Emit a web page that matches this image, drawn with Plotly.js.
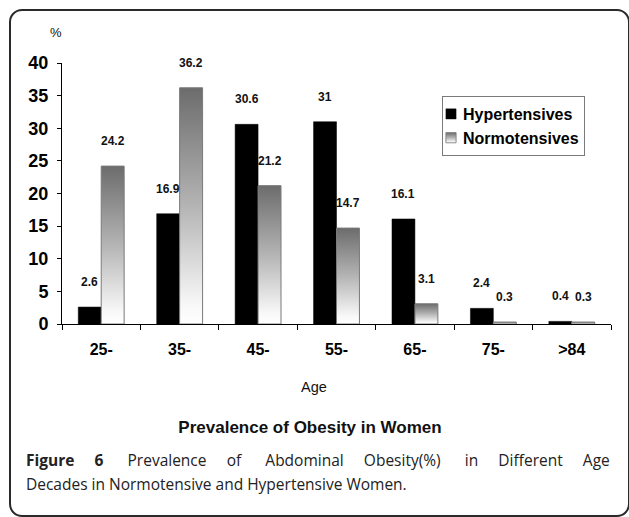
<!DOCTYPE html>
<html>
<head>
<meta charset="utf-8">
<script src="https://cdn.plot.ly/plotly-3.0.1.min.js"></script>
<style>
  html, body { margin: 0; padding: 0; background: #fff; }
  #wrap { position: relative; width: 629px; height: 517px; overflow: hidden; }
  #frame { position: absolute; left: 9px; top: 9px; width: 617px; height: 504px;
           border: 2px solid #2a2a2a; border-radius: 13px; }
  #chart { position: absolute; left: 0; top: 0; width: 629px; height: 517px; }
</style>
</head>
<body>
<div id="wrap">
  <div id="frame"></div>
  <div id="chart"></div>
</div>
<script>
// ---- data ----
const ageGroups = ["25-", "35-", "45-", "55-", "65-", "75-", ">84"];
const hypertensives = [2.6, 16.9, 30.6, 31, 16.1, 2.4, 0.4];
const normotensives = [24.2, 36.2, 21.2, 14.7, 3.1, 0.3, 0.3];
const seriesNames = ["Hypertensives", "Normotensives"];
const yTicks = [0, 5, 10, 15, 20, 25, 30, 35, 40];

// ---- layout constants ----
const W = 629, H = 517;
const M = { l: 62, r: 18, t: 63, b: 193 };
const plotW = W - M.l - M.r;
const bargap = 0.415;
const catPx = plotW / ageGroups.length;
const barPx = catPx * (1 - bargap) / 2;
const SANS = "Arial, 'Liberation Sans', Helvetica, sans-serif";
const CAP = "'Open Sans', 'Noto Sans', sans-serif";

const annotations = [];
hypertensives.forEach((v, i) => annotations.push({
  x: ageGroups[i], y: v, xref: "x", yref: "y", text: "<b>" + v + "</b>", showarrow: false,
  xshift: -barPx / 2, yshift: 16, yanchor: "bottom", font: { family: SANS, size: 12, color: "#111" }
}));
normotensives.forEach((v, i) => annotations.push({
  x: ageGroups[i], y: v, xref: "x", yref: "y", text: "<b>" + v + "</b>", showarrow: false,
  xshift: barPx / 2, yshift: 16, yanchor: "bottom", font: { family: SANS, size: 12, color: "#111" }
}));

function px2paperX(px) { return (px - M.l) / plotW; }
function px2paperY(py) { return (H - M.b - py) / (H - M.t - M.b); }

const NB4 = "&nbsp;&nbsp;&nbsp;&nbsp;", NB5 = NB4 + "&nbsp;";
annotations.push({
  text: "%", xref: "paper", yref: "paper", x: px2paperX(56), y: px2paperY(33),
  showarrow: false, xanchor: "center", yanchor: "middle",
  font: { family: SANS, size: 13, color: "#111" }
});
annotations.push({
  text: "Age", xref: "paper", yref: "paper", x: px2paperX(314), y: px2paperY(387),
  showarrow: false, xanchor: "center", yanchor: "middle",
  font: { family: SANS, size: 14.5, color: "#111" }
});
annotations.push({
  text: "<b>Figure" + NB4 + " 6</b>" + NB5 + " Prevalence" + NB4 + " of" + NB5 + " Abdominal" + NB4 +
        " Obesity(%)" + NB5 + " in" + NB4 + " Different" + NB4 + " Age",
  xref: "paper", yref: "paper", x: px2paperX(24), y: px2paperY(460),
  showarrow: false, xanchor: "left", yanchor: "middle", align: "left",
  font: { family: CAP, size: 15.5, color: "#222" }
});
annotations.push({
  text: "Decades in Normotensive and Hypertensive Women.",
  xref: "paper", yref: "paper", x: px2paperX(24), y: px2paperY(484),
  showarrow: false, xanchor: "left", yanchor: "middle", align: "left",
  font: { family: CAP, size: 15.5, color: "#222" }
});

const traces = [
  { type: "bar", name: seriesNames[0], x: ageGroups, y: hypertensives,
    marker: { color: "#000000", line: { color: "#000", width: 0.5 } }, hoverinfo: "none" },
  { type: "bar", name: seriesNames[1], x: ageGroups, y: normotensives,
    marker: { color: "#a8a8a8", line: { color: "#7a7a7a", width: 1 } }, hoverinfo: "none" }
];

const layout = {
  width: W, height: H,
  margin: M,
  paper_bgcolor: "rgba(0,0,0,0)",
  plot_bgcolor: "rgba(0,0,0,0)",
  barmode: "group", bargap: bargap, bargroupgap: 0,
  showlegend: true,
  legend: {
    x: px2paperX(442), y: px2paperY(96), xanchor: "left", yanchor: "top",
    bgcolor: "#fff", bordercolor: "#7a7a7a", borderwidth: 1,
    font: { family: SANS, size: 16, color: "#000", weight: 700 },
    itemwidth: 30, tracegroupgap: 0
  },
  title: {
    text: "<b>Prevalence of Obesity in Women</b>",
    xref: "paper", x: px2paperX(310), xanchor: "center",
    yref: "container", y: 1 - 427 / H, yanchor: "middle",
    font: { family: SANS, size: 17, color: "#111" }
  },
  xaxis: {
    type: "category", range: [-0.5, ageGroups.length - 0.5],
    showline: true, linecolor: "#000", linewidth: 1,
    ticks: "outside", tickson: "boundaries", ticklen: 5, tickcolor: "#000",
    showgrid: false, zeroline: false,
    tickfont: { family: SANS, size: 16, color: "#000", weight: 700 },
    ticklabelstandoff: 11
  },
  yaxis: {
    range: [0, 40], tickvals: yTicks, ticktext: yTicks.map(String),
    showline: true, linecolor: "#000", linewidth: 1,
    ticks: "outside", ticklen: 4, tickcolor: "#000",
    showgrid: false, zeroline: false,
    tickfont: { family: SANS, size: 18, color: "#000", weight: 700 },
    ticklabelstandoff: 5
  },
  annotations: annotations
};

Plotly.newPlot("chart", traces, layout, { staticPlot: true, displayModeBar: false }).then(gd => {
  const svg = gd.querySelector(".main-svg");
  const ns = "http://www.w3.org/2000/svg";
  let defs = svg.querySelector("defs");
  if (!defs) { defs = document.createElementNS(ns, "defs"); svg.insertBefore(defs, svg.firstChild); }
  const grad = document.createElementNS(ns, "linearGradient");
  grad.setAttribute("id", "normoGrad");
  grad.setAttribute("x1", "0"); grad.setAttribute("y1", "0");
  grad.setAttribute("x2", "0"); grad.setAttribute("y2", "1");
  [["0", "#6c6c6c"], ["0.5", "#b4b4b4"], ["0.92", "#f8f8f8"], ["1", "#ffffff"]].forEach(([o, c]) => {
    const s = document.createElementNS(ns, "stop");
    s.setAttribute("offset", o); s.setAttribute("stop-color", c);
    grad.appendChild(s);
  });
  defs.appendChild(grad);
  const barTraces = gd.querySelectorAll(".barlayer .trace");
  if (barTraces[1]) barTraces[1].querySelectorAll("path").forEach(p => p.style.fill = "url(#normoGrad)");
  const legTraces = gd.querySelectorAll(".legend .traces");
  if (legTraces[1]) legTraces[1].querySelectorAll(".legendpoints path").forEach(p => p.style.fill = "url(#normoGrad)");
  // tighten legend: smaller swatch near the box edge and text closer to it, like the original
  const SH = 20;
  legTraces.forEach(t => {
    const lp = t.querySelector(".legendpoints");
    if (lp) lp.setAttribute("transform", "translate(-9,0) scale(0.85)");
    const tx = t.querySelector("text.legendtext");
    if (tx) tx.setAttribute("x", String(parseFloat(tx.getAttribute("x") || "40") - SH));
  });
  const bg = gd.querySelector(".legend rect.bg");
  if (bg) bg.setAttribute("width", String(parseFloat(bg.getAttribute("width")) - SH));
});
</script>
</body>
</html>
